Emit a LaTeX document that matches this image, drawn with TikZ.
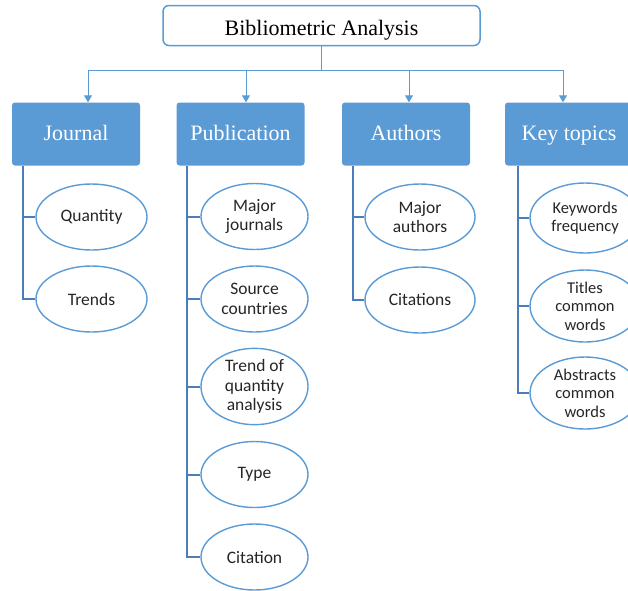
\documentclass[tikz,border=0pt]{standalone}
\usepackage{fontspec}
\setmainfont{Liberation Serif}
\newfontfamily\calib{Carlito}
\usetikzlibrary{shapes.geometric,arrows.meta}
\definecolor{boxblue}{HTML}{5B9BD5}
\definecolor{linkblue}{HTML}{4A7EBB}

\begin{document}
\begin{tikzpicture}[x=1pt,y=-1pt,
  title/.style={draw=boxblue,line width=1.5pt,fill=white,rounded corners=6pt,minimum width=317pt,minimum height=40pt,text height=20pt,text depth=1pt,font=\fontsize{22}{24}\selectfont},
  head/.style={fill=boxblue,rounded corners=3pt,minimum width=128pt,minimum height=63pt,text height=14pt,text depth=2pt,text=white,font=\fontsize{22}{24}\selectfont},
  leaf/.style={ellipse,draw=boxblue,line width=1.4pt,fill=white,inner sep=0pt,minimum width=110pt,minimum height=66pt,align=center,text=black!85,font=\calib\fontsize{17.5}{19.5}\selectfont},
  keyleaf/.style={leaf,minimum height=72pt,font=\calib\fontsize{16.5}{18.5}\selectfont},
  arr/.style={draw=boxblue,line width=1pt,-{Triangle[width=8pt,length=7pt]}},
  link/.style={draw=linkblue,line width=2pt}]
\useasboundingbox (0,0) rectangle (628,590);

\node[title] (top) at (321.5,25.5) {Bibliometric Analysis};
\node[head] (j) at (76,134) {Journal};
\node[head] (p) at (240.5,134) {Publication};
\node[head] (a) at (406,134) {Authors};
\node[head] (k) at (569,134) {Key topics};

\coordinate (bar) at (0,70);
\draw[draw=boxblue,line width=1pt] (top.south) -- (top.south |- bar);
\draw[draw=boxblue,line width=1pt] ([xshift=12pt]j.north |- bar) -- ([xshift=-6pt]k.north |- bar);
\draw[arr] ([xshift=12pt]j.north |- bar) -- ([xshift=12pt]j.north);
\draw[arr] ([xshift=5.5pt]p.north |- bar) -- ([xshift=5.5pt]p.north);
\draw[arr] ([xshift=3pt]a.north |- bar) -- ([xshift=3pt]a.north);
\draw[arr] ([xshift=-6pt]k.north |- bar) -- ([xshift=-6pt]k.north);

\node[leaf,minimum width=111pt] (j1) at (91.5,217) {Quantity};
\node[leaf,minimum width=111pt] (j2) at (91.5,299) {Trends};

\node[leaf,minimum width=107pt] (p1) at (254.5,216.5) {Major\\journals};
\node[leaf,minimum width=107pt] (p2) at (254.5,299) {Source\\countries};
\node[leaf,minimum width=107pt] (p3) at (254.5,386.5) {Trend of\\quantity\\analysis};
\node[leaf,minimum width=107pt] (p4) at (254.5,474.5) {Type};
\node[leaf,minimum width=107pt] (p5) at (254.5,557) {Citation};

\node[leaf] (a1) at (420,217) {Major\\authors};
\node[leaf] (a2) at (420,300) {Citations};

\node[keyleaf,minimum height=70pt] (k1) at (585,218) {Keywords\\frequency};
\node[keyleaf] (k2) at (585,306) {Titles\\common\\words};
\node[keyleaf] (k3) at (585,393) {Abstracts\\common\\words};

\draw[link] ([xshift=11pt]j.south west) |- (j2.west);
\draw[link] ([xshift=11pt]j.south west |- j1.west) -- (j1.west);
\draw[link] ([xshift=11pt]p.south west) |- (p5.west);
\foreach \n in {p1,p2,p3,p4}
  \draw[link] ([xshift=11pt]p.south west |- \n.west) -- (\n.west);
\draw[link] ([xshift=11pt]a.south west) |- (a2.west);
\draw[link] ([xshift=11pt]a.south west |- a1.west) -- (a1.west);
\draw[link] ([xshift=13pt]k.south west) |- (k3.west);
\foreach \n in {k1,k2}
  \draw[link] ([xshift=13pt]k.south west |- \n.west) -- (\n.west);
\end{tikzpicture}
\end{document}
